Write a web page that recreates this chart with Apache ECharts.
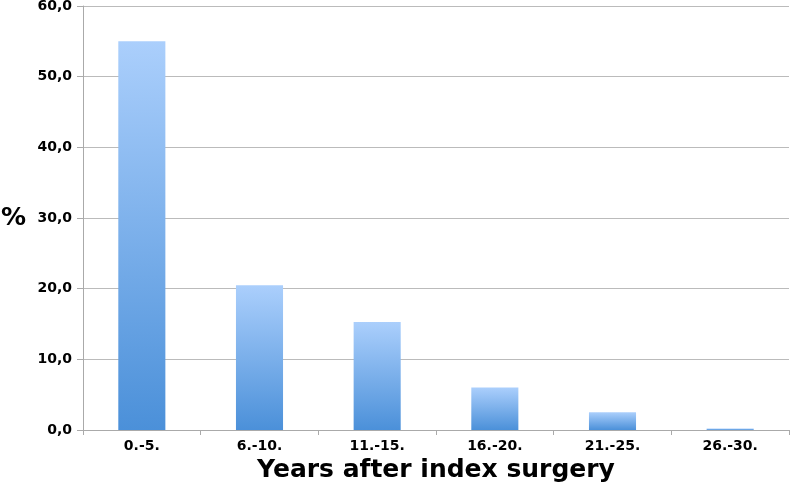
<!DOCTYPE html>
<html><head><meta charset="utf-8">
<script src="https://cdn.jsdelivr.net/npm/echarts@6/dist/echarts.min.js"></script>
<style>html,body{margin:0;padding:0;background:#fff}#c{width:792px;height:488px}</style>
</head><body><div id="c"></div>
<script>
const categories = ["0.-5.", "6.-10.", "11.-15.", "16.-20.", "21.-25.", "26.-30."];
const values = [55.0, 20.5, 15.3, 6.0, 2.5, 0.2];
const yTicks = [0, 10, 20, 30, 40, 50, 60];

const chart = echarts.init(document.getElementById('c'));
chart.setOption({
  animation: false,
  grid: {left: 83, right: 3, top: 6, bottom: 58, containLabel: false, outerBoundsMode: 'none'},
  xAxis: {
    type: 'category', data: categories,
    name: 'Years after index surgery', nameLocation: 'middle', nameGap: 26,
    nameTextStyle: {fontFamily: 'DejaVu Sans', fontWeight: 'bold', fontSize: 25, color: '#000'},
    axisLine: {lineStyle: {color: '#aaa', width: 1}},
    axisTick: {show: true, alignWithLabel: false, length: 5, lineStyle: {color: '#aaa'}},
    axisLabel: {fontFamily: 'DejaVu Sans', fontWeight: 'bold', fontSize: 14, color: '#000', margin: 9}
  },
  yAxis: {
    type: 'value', min: yTicks[0], max: yTicks[yTicks.length-1], interval: 10,
    name: '%', nameLocation: 'middle', nameGap: 57, nameRotate: 0,
    nameTextStyle: {fontFamily: 'DejaVu Sans', fontWeight: 'bold', fontSize: 25, color: '#000'},
    axisLine: {show: true, lineStyle: {color: '#aaa', width: 1}},
    axisTick: {show: true, length: 6, lineStyle: {color: '#aaa'}},
    splitLine: {lineStyle: {color: '#bbb', width: 1}},
    axisLabel: {fontFamily: 'DejaVu Sans', fontWeight: 'bold', fontSize: 14, color: '#000', margin: 11,
      formatter: v => v.toFixed(1).replace('.', ',')}
  },
  series: [{
    type: 'bar', data: values, barWidth: '40%',
    itemStyle: {color: new echarts.graphic.LinearGradient(0, 0, 0, 1, [
      {offset: 0, color: '#abcffc'}, {offset: 1, color: '#4b90d9'}])}
  }]
});
</script></body></html>
